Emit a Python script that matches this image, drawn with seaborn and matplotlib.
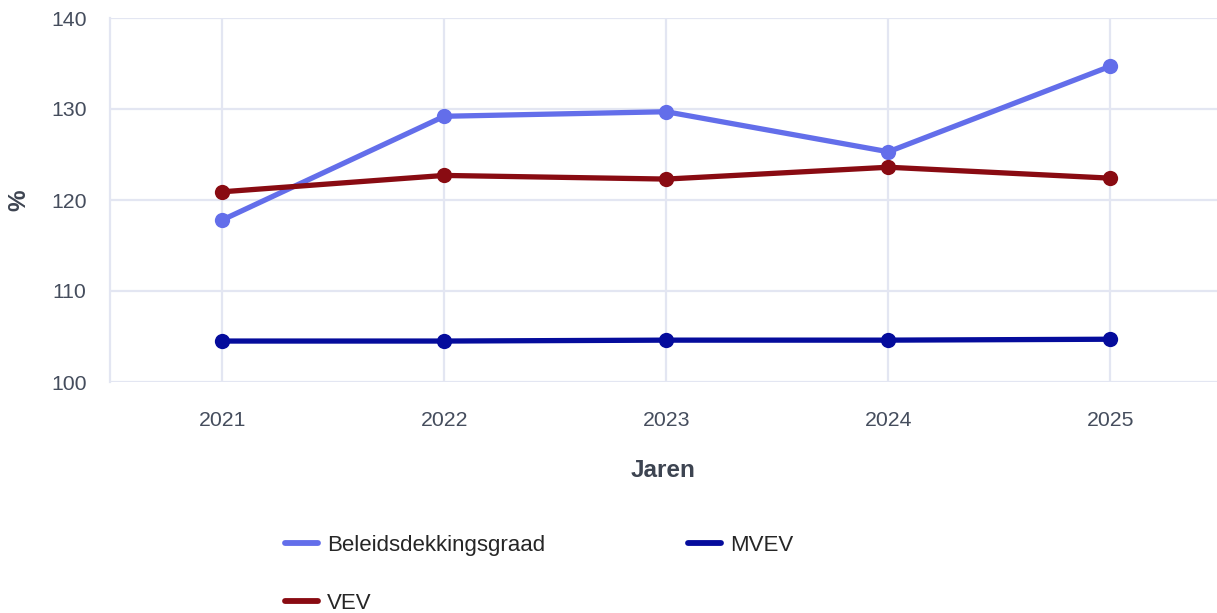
import pandas as pd
import matplotlib.pyplot as plt
import seaborn as sns
from matplotlib.lines import Line2D

# Data
jaren = [2021, 2022, 2023, 2024, 2025]
beleidsdekkingsgraad = [117.8, 129.2, 129.7, 125.3, 134.7]
mvev = [104.5, 104.5, 104.6, 104.6, 104.7]
vev = [120.9, 122.7, 122.3, 123.6, 122.4]

series_names = ["Beleidsdekkingsgraad", "MVEV", "VEV"]
colors = {"Beleidsdekkingsgraad": "#636EEA", "MVEV": "#050C9C", "VEV": "#890B12"}

df = pd.DataFrame({
    "Jaren": jaren * 3,
    "waarde": beleidsdekkingsgraad + mvev + vev,
    "reeks": [series_names[0]] * 5 + [series_names[1]] * 5 + [series_names[2]] * 5,
})

sns.set_theme(style="white")
plt.rcParams['font.family'] = ['Liberation Sans', 'DejaVu Sans']

grid_col = "#E3E6F2"
tick_col = "#454D5D"

fig = plt.figure(figsize=(12.17, 6.13), dpi=100)
ax = fig.add_axes([110 / 1217, 1 - 382 / 613, 1 - 110 / 1217, (382 - 18) / 613])

sns.lineplot(data=df, x="Jaren", y="waarde", hue="reeks", palette=colors,
             marker="o", markersize=11, markeredgewidth=0, linewidth=3.8,
             legend=False, ax=ax, zorder=3)

ax.set_xlim(2020.495, 2025.48)
ax.set_ylim(100, 140)
ax.set_xticks(jaren)
ax.set_yticks([100, 110, 120, 130, 140])
ax.grid(True, color=grid_col, linewidth=1.6)
ax.set_axisbelow(True)
for s in ["top", "right", "bottom"]:
    ax.spines[s].set_visible(False)
ax.spines["left"].set_color(grid_col)
ax.spines["left"].set_linewidth(1.6)

ax.tick_params(axis="x", length=6, width=1.6, color=grid_col, pad=15,
               labelsize=15.3, labelcolor=tick_col)
ax.tick_params(axis="y", length=8, width=1.6, color=grid_col, pad=9,
               labelsize=15.3, labelcolor=tick_col)

ax.set_xlabel("Jaren", fontsize=17.5, fontweight="bold", color="#3D4451", labelpad=21)
ax.set_ylabel("%", fontsize=17.5, fontweight="bold", color="#3D4451", labelpad=15)

handles = [Line2D([], [], color=colors[n], linewidth=4.2) for n in
           ["Beleidsdekkingsgraad", "VEV", "MVEV"]]
fig.legend(handles, ["Beleidsdekkingsgraad", "VEV", "MVEV"], ncol=2,
           loc="upper left", bbox_to_anchor=(285 / 1217, 1 - 535 / 613),
           frameon=False, fontsize=16, handlelength=1.5, handletextpad=0.4,
           columnspacing=6.4, labelspacing=1.65, borderpad=0, borderaxespad=0)

fig.savefig("out.png", dpi=100)
plt.close()
